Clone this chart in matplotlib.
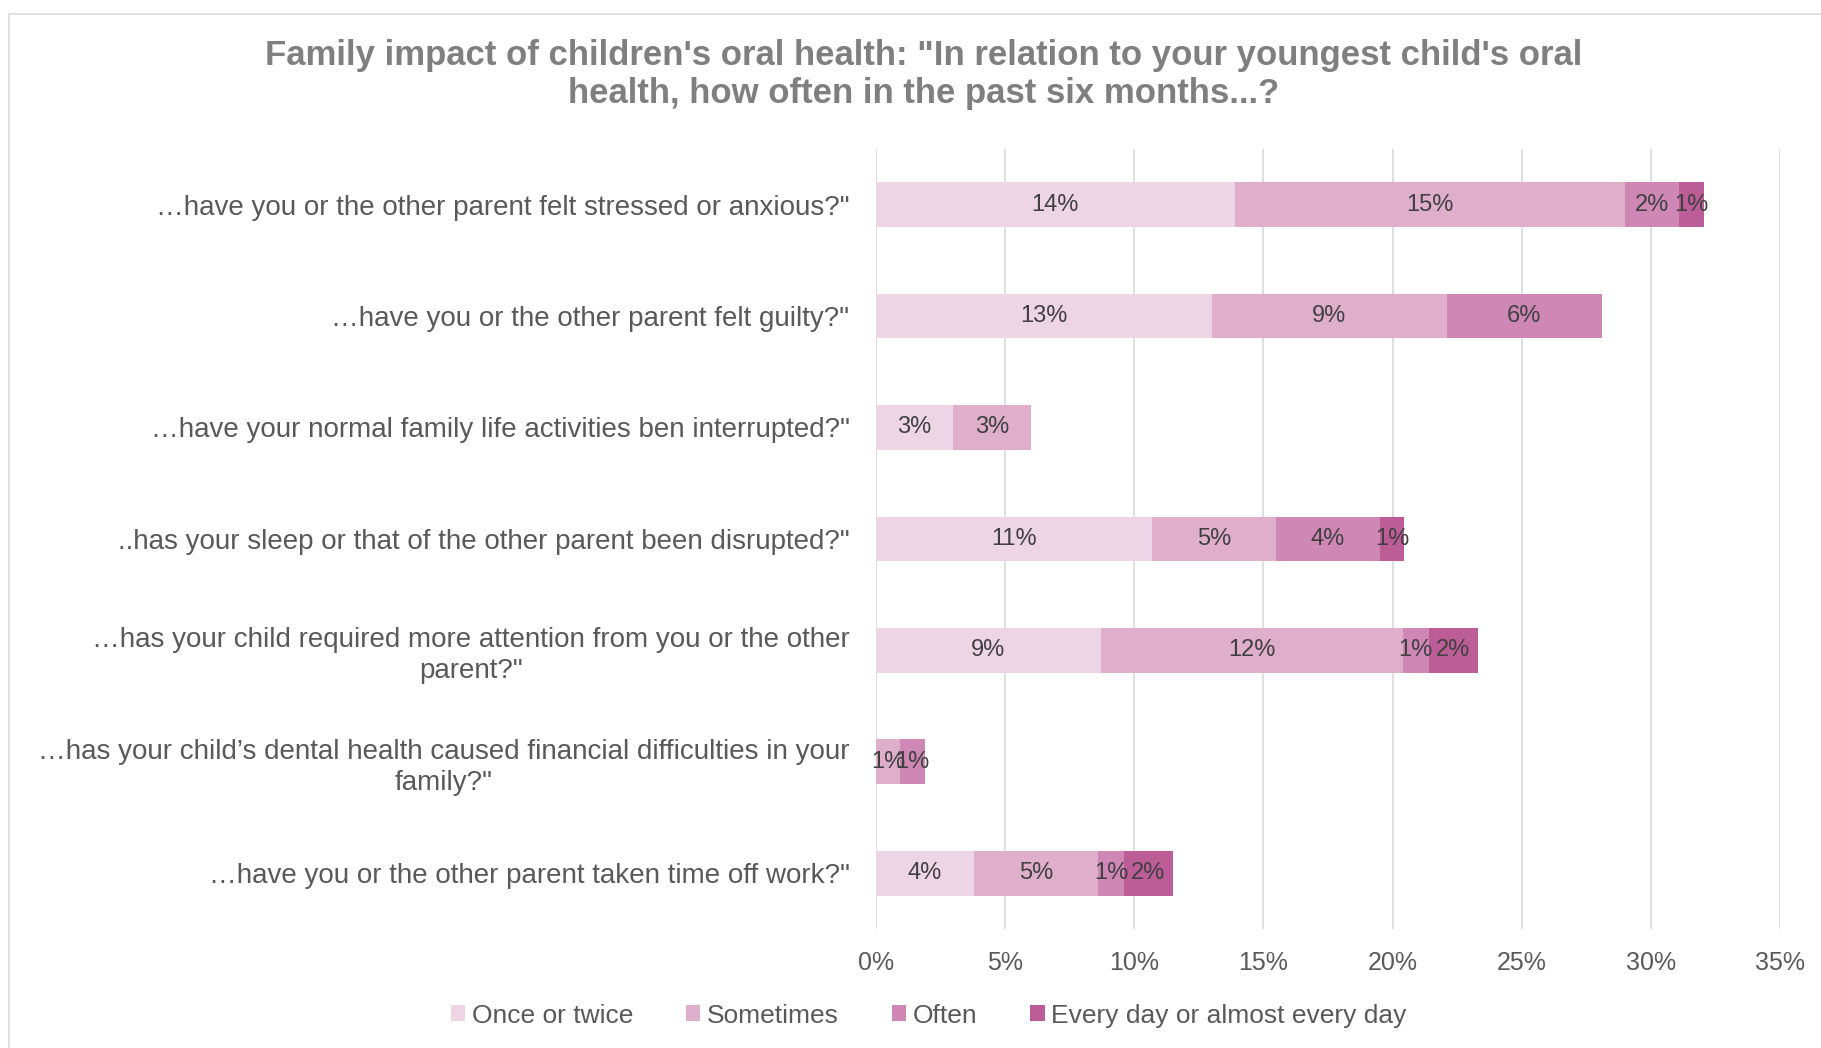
import numpy as np
import matplotlib.pyplot as plt
from matplotlib.patches import Rectangle
from matplotlib.ticker import FuncFormatter

# survey questions, top to bottom
questions = [
    '\u2026have you or the other parent felt stressed or anxious?"',
    '\u2026have you or the other parent felt guilty?"',
    '\u2026have your normal family life activities ben interrupted?"',
    '..has your sleep or that of the other parent been disrupted?"',
    '\u2026has your child required more attention from you or the other\nparent?"',
    '\u2026has your child\u2019s dental health caused financial difficulties in your\nfamily?"',
    '\u2026have you or the other parent taken time off work?"',
]
answers = ['Once or twice', 'Sometimes', 'Often', 'Every day or almost every day']

# percent of respondents per answer
once_twice = [13.9, 13.0, 3.0, 10.7, 8.7, 0.0, 3.8]
sometimes = [15.1, 9.1, 3.0, 4.8, 11.7, 0.95, 4.8]
often = [2.1, 6.0, 0.0, 4.0, 1.0, 0.95, 1.0]
every_day = [0.95, 0.0, 0.0, 0.95, 1.9, 0.0, 1.9]

colors = ['#EDD5E5', '#DEAECB', '#CF87B6', '#BD5D98']
grey = '#595959'

plt.rcParams['font.family'] = ['Liberation Sans', 'DejaVu Sans']

fig = plt.figure(figsize=(18.21, 10.48), dpi=100)
fig.patches.append(Rectangle((0.005, -0.1), 1.2, 1.087, transform=fig.transFigure,
                             fill=False, edgecolor='#D9D9D9', linewidth=1.2))
ax = fig.add_axes([0.481, 0.1136, 0.4965, 0.7444])

y = np.arange(len(questions))
left = np.zeros(len(questions))
for name, vals, c in zip(answers, [once_twice, sometimes, often, every_day], colors):
    vals = np.array(vals)
    bars = ax.barh(y, vals, left=left, height=0.4, color=c, label=name, zorder=3)
    for b, v in zip(bars, vals):
        if v > 0:
            ax.text(b.get_x() + v / 2, b.get_y() + b.get_height() / 2, f'{v:.0f}%',
                    ha='center', va='center', fontsize=17, color='#404040', zorder=4)
    left += vals

ax.set_xlim(0, 35)
ax.set_ylim(6.5, -0.5)
ax.set_xticks(np.arange(0, 36, 5))
ax.xaxis.set_major_formatter(FuncFormatter(lambda v, p: f'{v:.0f}%'))
ax.set_yticks(y)
ax.set_yticklabels(questions, fontsize=20, color=grey, multialignment='center', linespacing=1.25)
ax.tick_params(axis='x', labelsize=18, labelcolor=grey, length=0, pad=16)
ax.tick_params(axis='y', length=0, pad=19)
ax.grid(axis='x', color='#D9D9D9', linewidth=1.2, zorder=0)
for s in ax.spines.values():
    s.set_visible(False)

fig.text(0.507, 0.929, 'Family impact of children\'s oral health: "In relation to your youngest child\'s oral\nhealth, how often in the past six months...?',
         ha='center', va='center', fontsize=25, fontweight='bold', color='#7F7F7F', linespacing=1.2)

fig.legend(loc='center', bbox_to_anchor=(0.51, 0.031), ncol=4, frameon=False,
           fontsize=19, labelcolor=grey, handlelength=0.55, handleheight=0.55,
           handletextpad=0.25, columnspacing=2.0)

fig.savefig('out.png', dpi=100)
